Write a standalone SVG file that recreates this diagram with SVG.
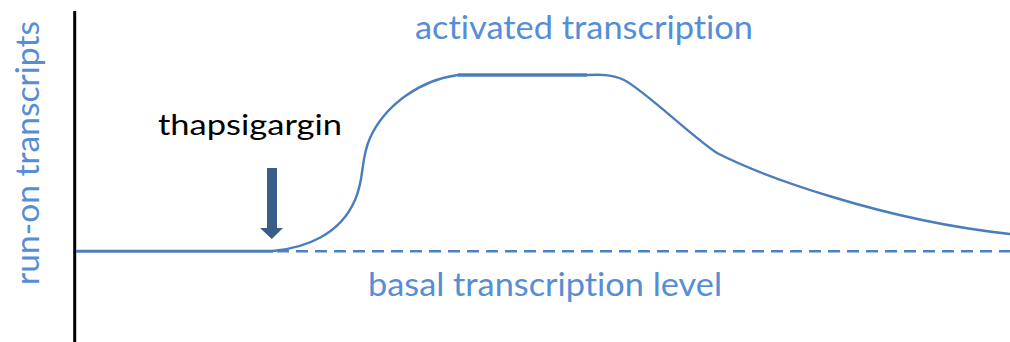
<svg xmlns="http://www.w3.org/2000/svg" width="1010" height="342" viewBox="0 0 1010 342">
  <style>
    .lbl { font-family: Lato, "Open Sans", "Liberation Sans", sans-serif; font-variant-ligatures: none; font-feature-settings: "liga" 0, "clig" 0; }
    .blue { fill: #558ed5; font-size: 33px; }
    .black { fill: #000000; font-size: 29px; }
    .curve { fill: none; stroke: #4a7ebb; stroke-width: 2.4; stroke-linecap: round; }
  </style>
  <rect width="1010" height="342" fill="#ffffff"/>

  <!-- y axis -->
  <g id="axis">
    <line x1="74.7" y1="11" x2="74.7" y2="342" stroke="#000000" stroke-width="3"/>
    <text class="lbl blue" transform="translate(38.5,285) rotate(-90)" textLength="264" lengthAdjust="spacingAndGlyphs">run-on transcripts</text>
  </g>

  <!-- response curve and baseline -->
  <g id="connectors">
    <line x1="76" y1="251.3" x2="273" y2="251.3" stroke="#4a7ebb" stroke-width="3"/>
    <line x1="277" y1="251.3" x2="1010" y2="251.3" stroke="#4f81bd" stroke-width="2.4" stroke-dasharray="12 7"/>
    <path class="curve" d="M273,251 C305,248 340,235 355,200 C365,178 360,160 370,138 C385,105 420,80 458,75"/>
    <line x1="458" y1="75" x2="587" y2="75" stroke="#4a7ebb" stroke-width="3.6"/>
    <path class="curve" d="M587,75 C600,74.5 612,74 624,80 C644,90 690,135 717,153 C760,175 880,220 1010,234"/>
  </g>

  <!-- treatment marker -->
  <g id="thapsigargin">
    <text class="lbl black" x="158" y="135" textLength="184" lengthAdjust="spacingAndGlyphs">thapsigargin</text>
    <polygon points="267,168 277,168 277,228 283,228 271.8,239 260,228 267,228" fill="#385d8a"/>
  </g>

  <g id="activated">
    <text class="lbl blue" x="415" y="39" textLength="338" lengthAdjust="spacingAndGlyphs">activated transcription</text>
  </g>

  <g id="basal">
    <text class="lbl blue" x="368" y="296" textLength="354" lengthAdjust="spacingAndGlyphs">basal transcription level</text>
  </g>
</svg>
